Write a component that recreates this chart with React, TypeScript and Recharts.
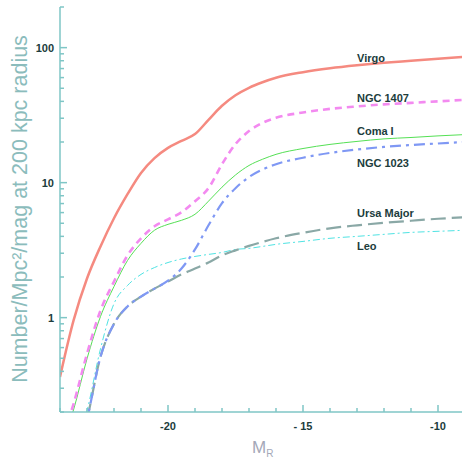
import { LineChart, Line, XAxis, YAxis } from "recharts";

// absolute magnitude samples
const mags = [-24, -23.5, -23, -22.5, -22, -21.5, -21, -20.5, -20, -19.5, -19, -18.5, -18, -17.5, -17, -16.5, -16, -15, -14, -13, -12, -11, -10, -9];

const virgo = [0.364, 0.95, 1.95, 3.37, 5.45, 8.21, 11.8, 15.2, 18.1, 20.4, 22.9, 29.2, 37.1, 44.4, 50.4, 55.4, 59.8, 65.8, 70.4, 74.1, 77.3, 80.0, 82.8, 85.7];
const ngc1407 = [0.116, 0.229, 0.54, 1.13, 1.85, 2.89, 3.87, 4.75, 5.35, 6.03, 7.29, 9.1, 13.7, 19.3, 24.1, 27.7, 30.2, 33.1, 35.2, 36.7, 38.0, 39.0, 40.0, 41.1];
const comaI = [0.106, 0.207, 0.496, 1.02, 1.7, 2.65, 3.55, 4.44, 4.91, 5.26, 5.83, 7.29, 9.26, 11.4, 13.4, 14.9, 16.2, 17.9, 19.2, 20.2, 21.1, 21.6, 22.2, 22.7];
const ngc1023 = [0.032, 0.082, 0.177, 0.513, 0.9, 1.21, 1.43, 1.64, 1.88, 2.31, 3.2, 4.83, 7.04, 9.1, 11.0, 12.5, 13.7, 15.3, 16.6, 17.6, 18.4, 19.0, 19.5, 20.0];
const ursaMajor = [0.032, 0.082, 0.177, 0.513, 0.9, 1.21, 1.43, 1.64, 1.85, 2.09, 2.31, 2.56, 2.89, 3.15, 3.4, 3.64, 3.87, 4.25, 4.59, 4.83, 5.04, 5.22, 5.4, 5.54];
const leo = [0.045, 0.0975, 0.204, 0.588, 1.27, 1.73, 2.09, 2.35, 2.56, 2.72, 2.84, 2.94, 3.04, 3.2, 3.26, 3.37, 3.49, 3.67, 3.87, 4.0, 4.14, 4.28, 4.36, 4.44];

const xTicks = [-24, -23, -22, -21, -20, -19, -18, -17, -16, -15, -14, -13, -12, -11, -10, -9];
const xLabels: Record<number, string> = { [-20]: "-20", [-15]: "- 15", [-10]: "-10" };
const yTicks = [0.2, 0.3, 0.4, 0.5, 0.6, 0.7, 0.8, 0.9, 1, 2, 3, 4, 5, 6, 7, 8, 9, 10, 20, 30, 40, 50, 60, 70, 80, 90, 100, 200];
const yLabels: Record<number, string> = { 1: "1", 10: "10", 100: "100" };

const clusterNames = ["Virgo", "NGC 1407", "Coma I", "NGC 1023", "Ursa Major", "Leo"];

const data = mags.map((m, i) => ({
  m,
  virgo: virgo[i],
  ngc1407: ngc1407[i],
  comaI: comaI[i],
  ngc1023: ngc1023[i],
  ursaMajor: ursaMajor[i],
  leo: leo[i],
}));

const AXIS = "#7fc6c6";
const TICK_TEXT = "#203c3c";
const FONT = "'Liberation Sans', Arial, sans-serif";

// ticks are drawn pointing into the plot box
const BottomTick = (props: any) => {
  const { x, y, payload } = props;
  const major = payload.value % 5 === 0;
  return (
    <g>
      <path d={`M${x},${y}V${y - (major ? 7 : 4)}`} stroke={AXIS} strokeWidth={1.5} fill="none" />
      {xLabels[payload.value] && (
        <text x={x} y={y + 18} textAnchor="middle" fontSize={11} fontWeight="bold" fill={TICK_TEXT} fontFamily={FONT}>
          {xLabels[payload.value]}
        </text>
      )}
    </g>
  );
};

const TopTick = (props: any) => {
  const { x, y, payload } = props;
  const major = payload.value % 5 === 0;
  return <path d={`M${x},${y}V${y + (major ? 7 : 4)}`} stroke={AXIS} strokeWidth={1.5} fill="none" />;
};

const LeftTick = (props: any) => {
  const { x, y, payload } = props;
  const label = yLabels[payload.value];
  return (
    <g>
      <path d={`M${x},${y}H${x + (label ? 7 : 4)}`} stroke={AXIS} strokeWidth={1.5} fill="none" />
      {label && (
        <text x={x - 6} y={y + 4} textAnchor="end" fontSize={11} fontWeight="bold" fill={TICK_TEXT} fontFamily={FONT}>
          {label}
        </text>
      )}
    </g>
  );
};

const labelY = [58, 98, 131, 163, 213, 246];

export default function App() {
  return (
    <div style={{ position: "absolute", left: 0, top: 0, width: 462, height: 460, overflow: "hidden", background: "#fff" }}>
      <LineChart width={470} height={460} data={data} margin={{ top: 7, right: 5, bottom: 0, left: 0 }}>
        <XAxis
          xAxisId="b"
          dataKey="m"
          type="number"
          domain={[-24, -9]}
          ticks={xTicks}
          interval={0}
          allowDataOverflow
          height={48}
          tickSize={0}
          tickMargin={0}
          tickLine={false}
          axisLine={{ stroke: AXIS, strokeWidth: 1.5 }}
          tick={(p: any) => <BottomTick {...p} />}
        />
        <XAxis
          xAxisId="t"
          orientation="top"
          dataKey="m"
          type="number"
          domain={[-24, -9]}
          ticks={xTicks}
          interval={0}
          allowDataOverflow
          height={0}
          tickSize={0}
          tickMargin={0}
          tickLine={false}
          axisLine={{ stroke: AXIS, strokeWidth: 1.5 }}
          tick={(p: any) => <TopTick {...p} />}
        />
        <YAxis
          type="number"
          scale="log"
          domain={[0.2, 200]}
          ticks={yTicks}
          interval={0}
          allowDataOverflow
          width={60}
          tickSize={0}
          tickMargin={0}
          tickLine={false}
          axisLine={{ stroke: AXIS, strokeWidth: 1.5 }}
          tick={(p: any) => <LeftTick {...p} />}
        />
        <Line xAxisId="b" type="monotone" dataKey="leo" stroke="#4fe3e3" strokeWidth={1} strokeDasharray="7 3 2 3" dot={false} isAnimationActive={false} />
        <Line xAxisId="b" type="monotone" dataKey="ursaMajor" stroke="#8aa8a6" strokeWidth={2.2} strokeDasharray="15 6" dot={false} isAnimationActive={false} />
        <Line xAxisId="b" type="monotone" dataKey="ngc1023" stroke="#7f98f4" strokeWidth={2.2} strokeDasharray="11 5 3 5" dot={false} isAnimationActive={false} />
        <Line xAxisId="b" type="monotone" dataKey="comaI" stroke="#55e055" strokeWidth={1} dot={false} isAnimationActive={false} />
        <Line xAxisId="b" type="monotone" dataKey="ngc1407" stroke="#f38af0" strokeWidth={2.6} strokeDasharray="7 5" dot={false} isAnimationActive={false} />
        <Line xAxisId="b" type="monotone" dataKey="virgo" stroke="#f58a80" strokeWidth={2.5} dot={false} isAnimationActive={false} />
      </LineChart>
      <svg width={462} height={460} style={{ position: "absolute", left: 0, top: 0, pointerEvents: "none" }}>
        <text
          transform="translate(20, 209) rotate(-90)"
          textAnchor="middle"
          dominantBaseline="central"
          fontSize={21.5}
          fill="#8bbcbc"
          fontFamily={FONT}
        >
          Number/Mpc²/mag at 200 kpc radius
        </text>
        <text x={252} y={453} fontSize={17} fill="#a4a8b8" fontFamily={FONT}>
          M<tspan fontSize={10} dy={4}>R</tspan>
        </text>
        {clusterNames.map((name, i) => (
          <text key={name} x={357} y={labelY[i] + 4} fontSize={11} fontWeight="bold" fill={TICK_TEXT} fontFamily={FONT}>
            {name}
          </text>
        ))}
      </svg>
    </div>
  );
}
